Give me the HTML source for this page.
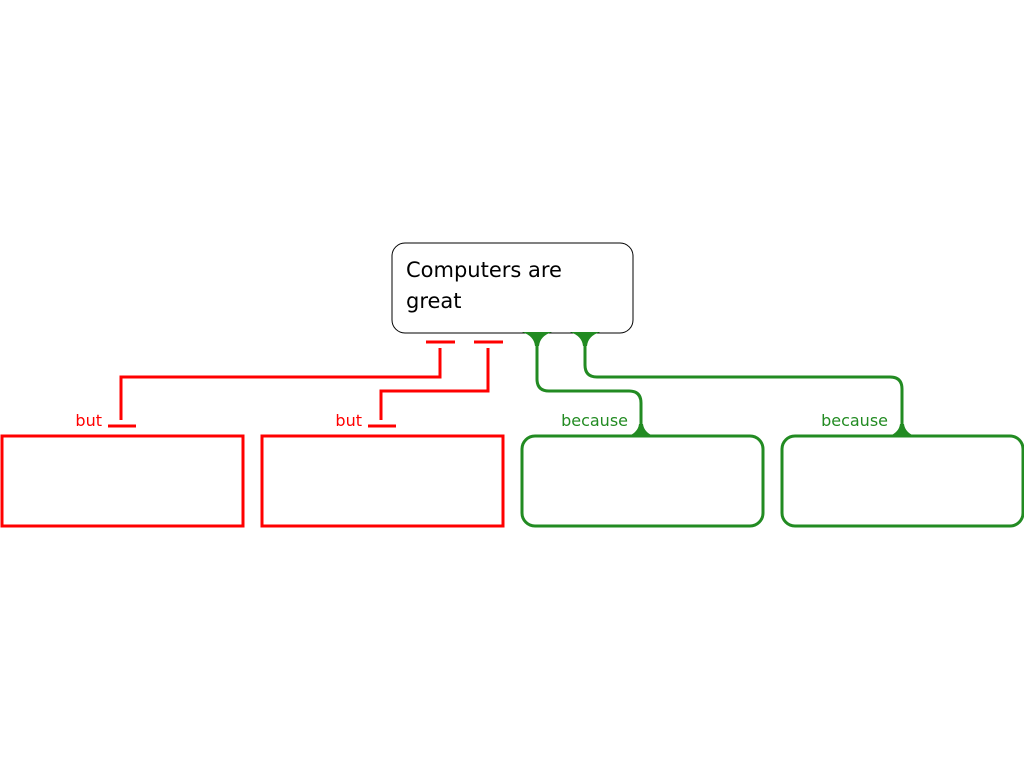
<!DOCTYPE html>
<html><head><style>body{margin:0;background:#fff}</style></head><body>
<svg width="1024" height="768" xmlns="http://www.w3.org/2000/svg" style="display:block">
<rect x="392" y="243" width="241" height="90" rx="13" fill="#fff" stroke="#000" stroke-width="1"/>
<text x="406" y="277" font-family="DejaVu Sans, sans-serif" font-size="21" fill="#000">Computers are</text>
<text x="406" y="308" font-family="DejaVu Sans, sans-serif" font-size="21" fill="#000">great</text>
<g stroke="#ff0000" stroke-width="3" fill="none">
<line x1="426" y1="342" x2="455" y2="342"/>
<line x1="474" y1="342" x2="503" y2="342"/>
<polyline points="440,348 440,377 121,377 121,420"/>
<polyline points="488,348 488,391 381,391 381,420"/>
<line x1="108" y1="426" x2="136" y2="426"/>
<line x1="368" y1="426" x2="396" y2="426"/>
<rect x="2" y="436" width="241" height="90"/>
<rect x="262" y="436" width="241" height="90"/>
</g>
<text x="102" y="426" text-anchor="end" font-family="DejaVu Sans, sans-serif" font-size="16" fill="#ff0000">but</text>
<text x="362" y="426" text-anchor="end" font-family="DejaVu Sans, sans-serif" font-size="16" fill="#ff0000">but</text>
<g stroke="#228b22" stroke-width="3" fill="none">
<path d="M537 340 V379 Q537 391 549 391 H629 Q641 391 641 403 V434"/>
<path d="M585 340 V365 Q585 377 597 377 H890 Q902 377 902 389 V434"/>
<rect x="522" y="436" width="241" height="90" rx="13"/>
<rect x="782" y="436" width="241" height="90" rx="13"/>
</g>
<g fill="#228b22">
<path d="M522 332 H552 Q540 336 539 346 H535 Q534 336 522 332Z"/>
<path d="M570 332 H600 Q588 336 587 346 H583 Q582 336 570 332Z"/>
<path d="M626 437 H656 Q644 433 643 424 H639 Q638 433 626 437Z"/>
<path d="M887 437 H917 Q905 433 904 424 H900 Q899 433 887 437Z"/>
</g>
<text x="628" y="426" text-anchor="end" font-family="DejaVu Sans, sans-serif" font-size="16" fill="#228b22">because</text>
<text x="888" y="426" text-anchor="end" font-family="DejaVu Sans, sans-serif" font-size="16" fill="#228b22">because</text>
</svg>
</body></html>
